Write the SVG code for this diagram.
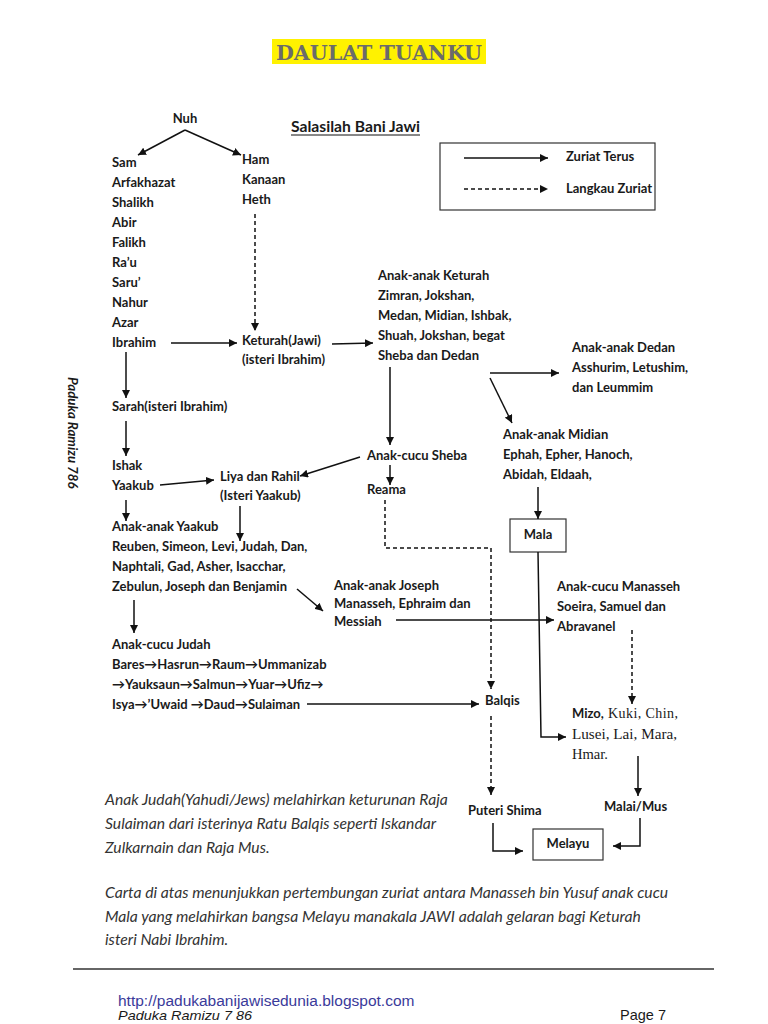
<svg xmlns="http://www.w3.org/2000/svg" width="768" height="1024" viewBox="0 0 768 1024">
<defs>
<marker id="ah" viewBox="0 0 10 10" refX="10" refY="5" markerWidth="8" markerHeight="8" markerUnits="userSpaceOnUse" orient="auto">
<path d="M0,0 L10,5 L0,10 z" fill="#111"/>
</marker>
</defs>
<style>
.t{font-family:Lato,"Liberation Sans",sans-serif;font-size:13px;fill:#1a1a1a}
.b{font-weight:bold}
.s{font-family:"Liberation Serif",serif;font-size:14px;fill:#1a1a1a}
.it{font-family:Lato,"Liberation Sans",sans-serif;font-style:italic;font-size:15.7px;fill:#333}
.ar{stroke:#111;stroke-width:1.5;fill:none;marker-end:url(#ah)}
.da{stroke:#111;stroke-width:1.5;fill:none;stroke-dasharray:4,3;marker-end:url(#ah)}
.bx{fill:#fff;stroke:#333;stroke-width:1.2}
</style>
<rect width="768" height="1024" fill="#fff"/>

<g id="title">
<rect x="272" y="39" width="214" height="25" fill="#fff200"/>
<text x="276" y="60" textLength="206" lengthAdjust="spacingAndGlyphs" font-family="'DejaVu Serif',serif" font-weight="bold" font-size="20" fill="#6b6b6b">DAULAT TUANKU</text>
</g>

<g id="subtitle">
<text x="291" y="132" class="t b" style="font-size:15.7px">Salasilah Bani Jawi</text>
<line x1="291" y1="135" x2="420" y2="135" stroke="#111" stroke-width="1"/>
</g>

<g id="legend">
<rect x="440" y="143" width="215" height="67" fill="none" stroke="#333" stroke-width="1.2"/>
<line x1="464" y1="158" x2="548" y2="158" class="ar"/>
<text x="566" y="161" class="t b">Zuriat Terus</text>
<line x1="464" y1="189" x2="548" y2="189" class="da"/>
<text x="566" y="193" class="t b">Langkau Zuriat</text>
</g>

<g id="side">
<text transform="translate(68,377) rotate(90)" font-family="Lato,'Liberation Sans',sans-serif" font-style="italic" font-weight="bold" font-size="13.3" fill="#1a1a1a">Paduka Ramizu 786</text>
</g>

<g id="nuh"><text x="185" y="123" text-anchor="middle" class="t b">Nuh</text></g>

<g id="sam">
<text class="t b">
<tspan x="112" y="167">Sam</tspan>
<tspan x="112" y="187">Arfakhazat</tspan>
<tspan x="112" y="207">Shalikh</tspan>
<tspan x="112" y="227">Abir</tspan>
<tspan x="112" y="247">Falikh</tspan>
<tspan x="112" y="267">Ra’u</tspan>
<tspan x="112" y="287">Saru’</tspan>
<tspan x="112" y="307">Nahur</tspan>
<tspan x="112" y="327">Azar</tspan>
</text>
</g>
<g id="ibrahim"><text x="112" y="347" class="t b">Ibrahim</text></g>

<g id="ham">
<text class="t b">
<tspan x="242" y="164">Ham</tspan>
<tspan x="242" y="184">Kanaan</tspan>
<tspan x="242" y="204">Heth</tspan>
</text>
</g>

<g id="keturah">
<text class="t b">
<tspan x="242" y="345">Keturah(Jawi)</tspan>
<tspan x="242" y="364">(isteri Ibrahim)</tspan>
</text>
</g>

<g id="anak-keturah">
<text class="t b">
<tspan x="378" y="280">Anak-anak Keturah</tspan>
<tspan x="378" y="300">Zimran, Jokshan,</tspan>
<tspan x="378" y="320">Medan, Midian, Ishbak,</tspan>
<tspan x="378" y="340">Shuah, Jokshan, begat</tspan>
<tspan x="378" y="360">Sheba dan Dedan</tspan>
</text>
</g>

<g id="dedan">
<text class="t b">
<tspan x="572" y="352">Anak-anak Dedan</tspan>
<tspan x="572" y="372">Asshurim, Letushim,</tspan>
<tspan x="572" y="392">dan Leummim</tspan>
</text>
</g>

<g id="midian">
<text class="t b">
<tspan x="503" y="439">Anak-anak Midian</tspan>
<tspan x="503" y="459">Ephah, Epher, Hanoch,</tspan>
<tspan x="503" y="479">Abidah, Eldaah,</tspan>
</text>
</g>

<g id="mala">
<rect x="510" y="519" width="56" height="33" class="bx"/>
<text x="538" y="539" text-anchor="middle" class="t b">Mala</text>
</g>

<g id="sarah"><text x="112" y="411" class="t b">Sarah(isteri Ibrahim)</text></g>

<g id="yaakub">
<text class="t b">
<tspan x="112" y="470">Ishak</tspan>
<tspan x="112" y="490">Yaakub</tspan>
</text>
</g>

<g id="liya">
<text class="t b">
<tspan x="220" y="481">Liya dan Rahil</tspan>
<tspan x="220" y="500">(Isteri Yaakub)</tspan>
</text>
</g>

<g id="sheba"><text x="367" y="460" class="t b">Anak-cucu Sheba</text></g>
<g id="reama"><text x="367" y="494" class="t b">Reama</text></g>

<g id="anak-yaakub">
<text class="t b">
<tspan x="112" y="531">Anak-anak Yaakub</tspan>
<tspan x="112" y="551">Reuben, Simeon, Levi, Judah, Dan,</tspan>
<tspan x="112" y="571">Naphtali, Gad, Asher, Isacchar,</tspan>
<tspan x="112" y="591">Zebulun, Joseph dan Benjamin</tspan>
</text>
</g>

<g id="joseph">
<text class="t b">
<tspan x="334" y="590">Anak-anak Joseph</tspan>
<tspan x="334" y="608">Manasseh, Ephraim dan</tspan>
<tspan x="334" y="626">Messiah</tspan>
</text>
</g>

<g id="manasseh">
<text class="t b">
<tspan x="557" y="591">Anak-cucu Manasseh</tspan>
<tspan x="557" y="611">Soeira, Samuel  dan</tspan>
<tspan x="557" y="631">Abravanel</tspan>
</text>
</g>

<g id="judah">
<text class="t b">
<tspan x="112" y="649">Anak-cucu Judah</tspan>
<tspan x="112" y="669">Bares→Hasrun→Raum→Ummanizab</tspan>
<tspan x="112" y="689">→Yauksaun→Salmun→Yuar→Ufiz→</tspan>
<tspan x="112" y="709">Isya→’Uwaid →Daud→Sulaiman</tspan>
</text>
</g>

<g id="balqis"><text x="485" y="705" class="t b">Balqis</text></g>

<g id="mizo">
<text x="572" y="718" class="t b">Mizo,</text>
<text class="s" lengthAdjust="spacingAndGlyphs">
<tspan x="608" y="718" textLength="70">Kuki, Chin,</tspan>
</text>
<text x="572" y="739" class="s" textLength="105" lengthAdjust="spacingAndGlyphs">Lusei, Lai, Mara,</text>
<text x="572" y="759" class="s" textLength="36" lengthAdjust="spacingAndGlyphs">Hmar.</text>
</g>

<g id="malai"><text x="604" y="811" class="t b">Malai/Mus</text></g>
<g id="puteri"><text x="468" y="815" class="t b">Puteri Shima</text></g>

<g id="melayu">
<rect x="533" y="829" width="70" height="31" class="bx"/>
<text x="568" y="848" text-anchor="middle" class="t b">Melayu</text>
</g>

<g id="connectors">
<line x1="185" y1="130" x2="138" y2="155" class="ar"/>
<line x1="185" y1="130" x2="241" y2="155" class="ar"/>
<line x1="255" y1="214" x2="255" y2="331" class="da"/>
<line x1="171" y1="343" x2="237" y2="343" class="ar"/>
<line x1="332" y1="344" x2="373" y2="343" class="ar"/>
<line x1="390" y1="367" x2="390" y2="445" class="ar"/>
<line x1="490" y1="373" x2="559" y2="373" class="ar"/>
<line x1="490" y1="378" x2="512" y2="423" class="ar"/>
<line x1="538" y1="487" x2="538" y2="519" class="ar"/>
<polyline points="538,552 541,737 566,737" class="ar"/>
<line x1="126" y1="352" x2="126" y2="398" class="ar"/>
<line x1="126" y1="421" x2="126" y2="456" class="ar"/>
<line x1="160" y1="485" x2="214" y2="480" class="ar"/>
<line x1="126" y1="500" x2="126" y2="521" class="ar"/>
<line x1="240" y1="506" x2="240" y2="541" class="ar"/>
<line x1="360" y1="457" x2="300" y2="476" class="ar"/>
<line x1="390" y1="465" x2="390" y2="485" class="ar"/>
<polyline points="385,500 385,548 491,548 491,689" class="da"/>
<line x1="297" y1="589" x2="323" y2="611" class="ar"/>
<line x1="396" y1="620" x2="554" y2="620" class="ar"/>
<line x1="632" y1="630" x2="632" y2="704" class="da"/>
<line x1="638" y1="756" x2="638" y2="796" class="ar"/>
<line x1="134" y1="600" x2="134" y2="633" class="ar"/>
<line x1="307" y1="704" x2="479" y2="704" class="ar"/>
<line x1="491" y1="716" x2="491" y2="795" class="da"/>
<polyline points="493,823 493,851 523,851" class="ar"/>
<polyline points="640,818 640,846 613,846" class="ar"/>
</g>

<g id="notes">
<text class="it">
<tspan x="105" y="805">Anak Judah(Yahudi/Jews) melahirkan keturunan Raja</tspan>
<tspan x="105" y="829">Sulaiman dari isterinya Ratu Balqis seperti Iskandar</tspan>
<tspan x="105" y="853">Zulkarnain dan Raja Mus.</tspan>
<tspan x="105" y="898">Carta di atas menunjukkan pertembungan zuriat antara Manasseh bin Yusuf anak cucu</tspan>
<tspan x="105" y="922">Mala yang melahirkan bangsa Melayu manakala JAWI adalah gelaran bagi Keturah</tspan>
<tspan x="105" y="945">isteri Nabi Ibrahim.</tspan>
</text>
</g>

<g id="footer">
<line x1="73" y1="969" x2="714" y2="969" stroke="#333" stroke-width="1.5"/>
<text x="118" y="1006" font-family="'Liberation Sans',Arial,sans-serif" font-size="15.5" fill="#3a3a9a">http://padukabanijawisedunia.blogspot.com</text>
<text x="118" y="1020" textLength="134" lengthAdjust="spacingAndGlyphs" font-family="'Liberation Sans',Arial,sans-serif" font-style="italic" font-size="13" fill="#1a1a1a">Paduka Ramizu 7 86</text>
<text x="620" y="1020" font-family="'Liberation Sans',Arial,sans-serif" font-size="14.5" fill="#1a1a1a">Page 7</text>
</g>
</svg>
